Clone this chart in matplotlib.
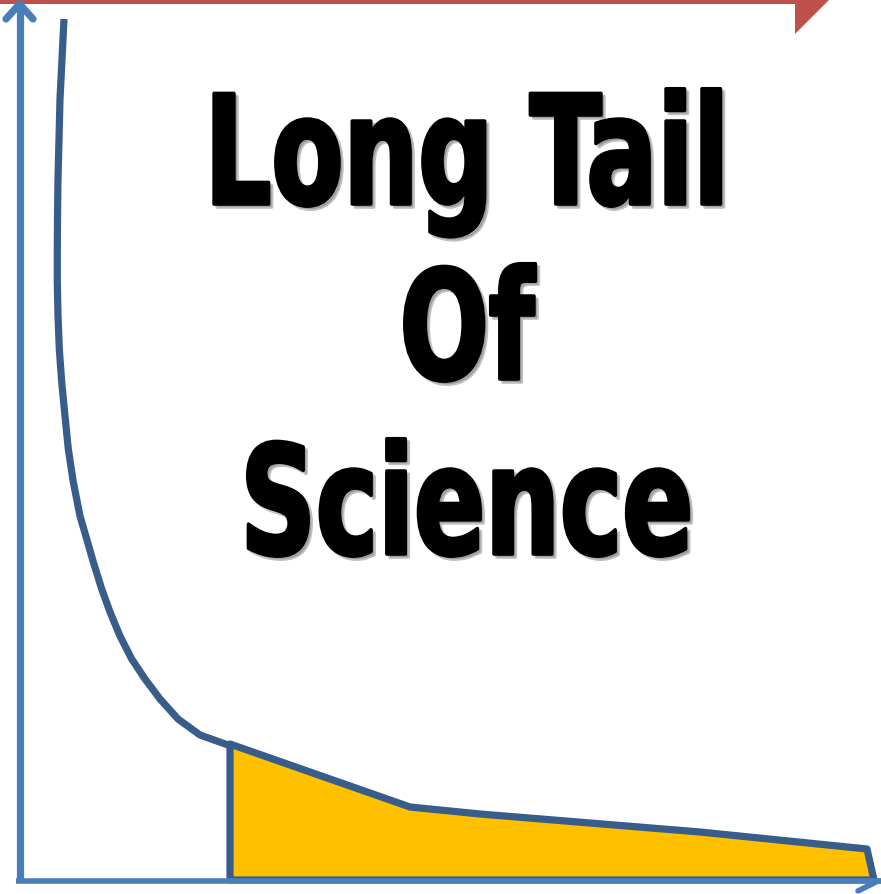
import matplotlib.pyplot as plt
import matplotlib.patheffects as pe
import matplotlib.colors as mcolors
from matplotlib.patches import Polygon
from matplotlib.transforms import Affine2D

## canvas size in pixels (y measured upward)
W, H = 881, 895

## head of the distribution: a few very popular items
head_x = [64, 62, 60, 59, 58, 57.5, 57.3, 57.3, 58, 59.3, 61.7, 65, 68.3, 73.3, 80,
          86.7, 93.3, 101.7, 110, 120, 131.7, 145, 160, 178, 200, 228]
head_y = [875, 835, 795, 755, 715, 675, 645, 612, 578, 545, 512, 478, 445, 412, 378,
          355, 332, 305, 282, 258, 235, 215, 195, 175, 159, 149]

## long tail region (filled)
tail_x = [230, 410, 480, 700, 867, 874, 230]
tail_y = [150, 87, 80, 62, 45, 14, 14]

title_lines = ['Long Tail', 'Of', 'Science']
title_baselines = [690, 515, 340]

axis_blue = '#4A7EBB'
curve_blue = '#385D8A'
tail_yellow = '#FFC000'
top_red = '#C0504D'


class TallGlyphs(pe.AbstractPathEffect):
    '''Draws the text glyphs stretched vertically and thickened (poster style lettering).'''
    def __init__(self, sy, offset=(0, 0), color='black', alpha=1.0, lw=2.0):
        super().__init__(offset)
        self.sy = sy
        self.color = mcolors.to_rgb(color)
        self.alpha = alpha
        self.lw = lw

    def draw_path(self, renderer, gc, tpath, affine, rgbFace=None):
        gc0 = renderer.new_gc()
        gc0.copy_properties(gc)
        gc0.set_foreground(self.color)
        gc0.set_alpha(self.alpha)
        gc0.set_linewidth(self.lw)
        gc0.set_joinstyle('round')
        trans = Affine2D().scale(1, self.sy) + affine + self._offset_transform(renderer)
        renderer.draw_path(gc0, tpath, trans, self.color)
        gc0.restore()


fig = plt.figure(figsize=(W / 100, H / 100), dpi=100)
ax = fig.add_axes([0, 0, 1, 1])
ax.set_xlim(0, W)
ax.set_ylim(0, H)
ax.axis('off')

## red arrow along the top edge
ax.add_patch(Polygon([(0, H), (830, H), (795, H - 35), (795, H - 5), (0, H - 5)],
                     closed=True, facecolor=top_red, edgecolor='none'))

## blue axes with arrow heads
ax.plot([19.5, 19.5], [13, H - 4], color=axis_blue, lw=5.2, solid_capstyle='butt')
ax.plot([6, 19.5, 33], [H - 20, H - 5, H - 20], color=axis_blue, lw=5.2,
        solid_capstyle='round', solid_joinstyle='round')
ax.plot([16, W], [13, 13], color=axis_blue, lw=4, solid_capstyle='butt')
ax.plot([858, 878, 890], [3, 13, 13], color=axis_blue, lw=4, solid_capstyle='round')

## tail fill
ax.add_patch(Polygon(list(zip(tail_x, tail_y)), closed=True, facecolor=tail_yellow,
                     edgecolor=curve_blue, lw=5.2, joinstyle='round'))

## head curve
ax.plot(head_x, head_y, color=curve_blue, lw=5.2, solid_capstyle='butt', solid_joinstyle='round')

## title text
effects = [TallGlyphs(1.30, offset=(2.2, -2.2), color='#666666', alpha=0.4, lw=2.6),
           TallGlyphs(1.30, lw=2.6)]
for line, yb in zip(title_lines, title_baselines):
    ax.text(467, yb, line, ha='center', va='baseline', fontsize=84, fontweight='heavy',
            fontstretch='condensed', family=['DejaVu Sans'], color='black',
            path_effects=effects)

fig.savefig('out.png', dpi=100)
